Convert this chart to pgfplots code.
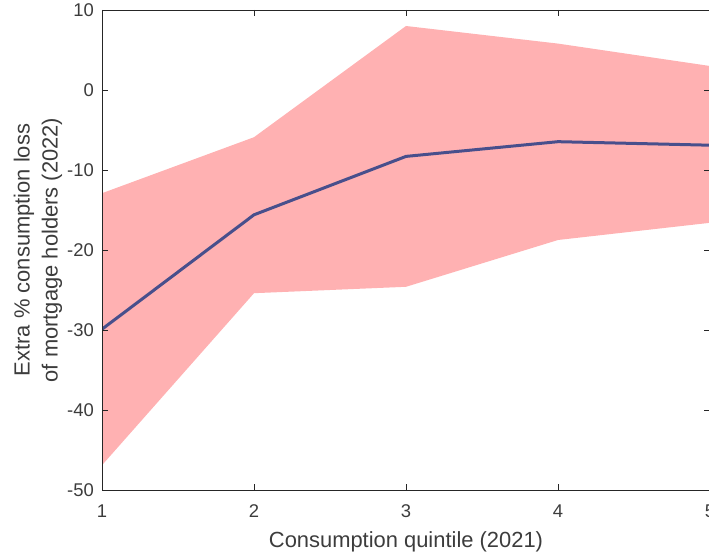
\documentclass[border=0pt]{standalone}
\usepackage{fontspec}
\setmainfont{Liberation Sans}
\usepackage{pgfplots}
\pgfplotsset{compat=1.18}
\usepgfplotslibrary{fillbetween}
\definecolor{bandfill}{RGB}{255,177,178}
\definecolor{linecol}{RGB}{72,79,140}
\definecolor{axcol}{RGB}{38,38,38}
\begin{document}
\begin{tikzpicture}
\begin{axis}[
  at={(0,0)}, anchor=south west,
  scale only axis,
  width=608bp, height=480bp,
  xmin=1, xmax=5, ymin=-50, ymax=10,
  xtick={1,2,3,4,5},
  ytick={-50,-40,-30,-20,-10,0,10},
  tick align=inside,
  major tick length=6bp,
  axis line style={color=axcol, line width=0.8bp},
  every tick/.style={color=axcol, line width=0.6bp},
  axis on top,
  /pgf/number format/assume math mode=true,
  ticklabel style={font=\fontsize{18.5}{22}\selectfont, color=axcol!90!white},
  xticklabel style={anchor=base, yshift=-27bp, inner sep=0pt},
  yticklabel style={anchor=east, xshift=-8bp, inner sep=0pt},
  xlabel={Consumption quintile (2021)},
  xlabel style={font=\fontsize{22}{28}\selectfont, color=axcol!90!white, at={(axis description cs:0.5,0)}, anchor=base, yshift=-57bp, inner sep=0pt},
  ylabel={Extra \% consumption loss\\of mortgage holders (2022)},
  ylabel style={font=\fontsize{22}{28}\selectfont, color=axcol!90!white, align=center, at={(axis description cs:0,0.5)}, anchor=center, yshift=64bp, inner sep=0pt},
]
\addplot[name path=up, draw=none, forget plot] coordinates {
 (1,-12.9) (2,-5.9) (3,8.0) (4,5.8) (5,3.0)};
\addplot[name path=lo, draw=none, forget plot] coordinates {
 (1,-46.9) (2,-25.4) (3,-24.6) (4,-18.75) (5,-16.6)};
\addplot[bandfill, draw=none] fill between[of=up and lo];
\addplot[linecol, line width=3bp, mark=none] coordinates {
 (1,-29.9) (2,-15.6) (3,-8.3) (4,-6.46) (5,-6.9)};
\end{axis}
\pgfresetboundingbox
\useasboundingbox (-102bp,-67bp) rectangle (607bp,490bp);
\end{tikzpicture}
\end{document}
